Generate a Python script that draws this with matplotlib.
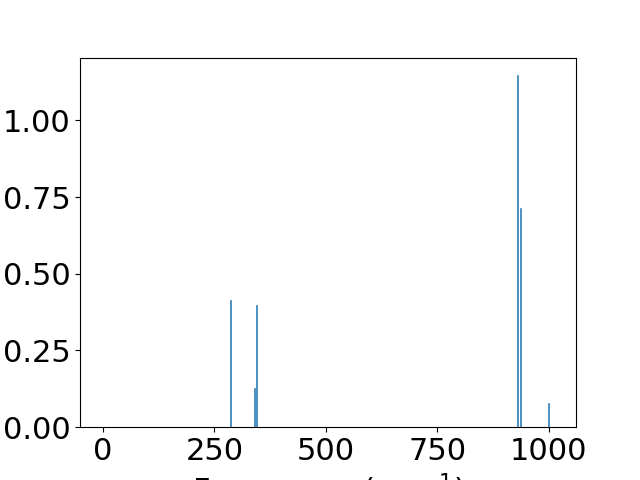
import matplotlib
matplotlib.use("Agg")
import matplotlib.pyplot as plt

# stick spectrum: frequencies (cm^-1) and intensities
freqs = [0, 287, 341, 345, 931, 938, 1000, 1010]
intensities = [0.0, 0.414, 0.127, 0.397, 1.147, 0.714, 0.080, 0.0]

plt.rcParams["font.size"] = 22

fig, ax = plt.subplots(figsize=(6.4, 4.8), dpi=100)
ax.bar(freqs, intensities, width=2.2, color="#1f77b4",
       edgecolor="#1f77b4", linewidth=0.4)
ax.set_xlabel("Frequency (cm$^{-1}$)")
ax.set_xticks([0, 250, 500, 750, 1000])
ax.set_yticks([0.0, 0.25, 0.5, 0.75, 1.0])

fig.savefig("out.png", dpi=100)
